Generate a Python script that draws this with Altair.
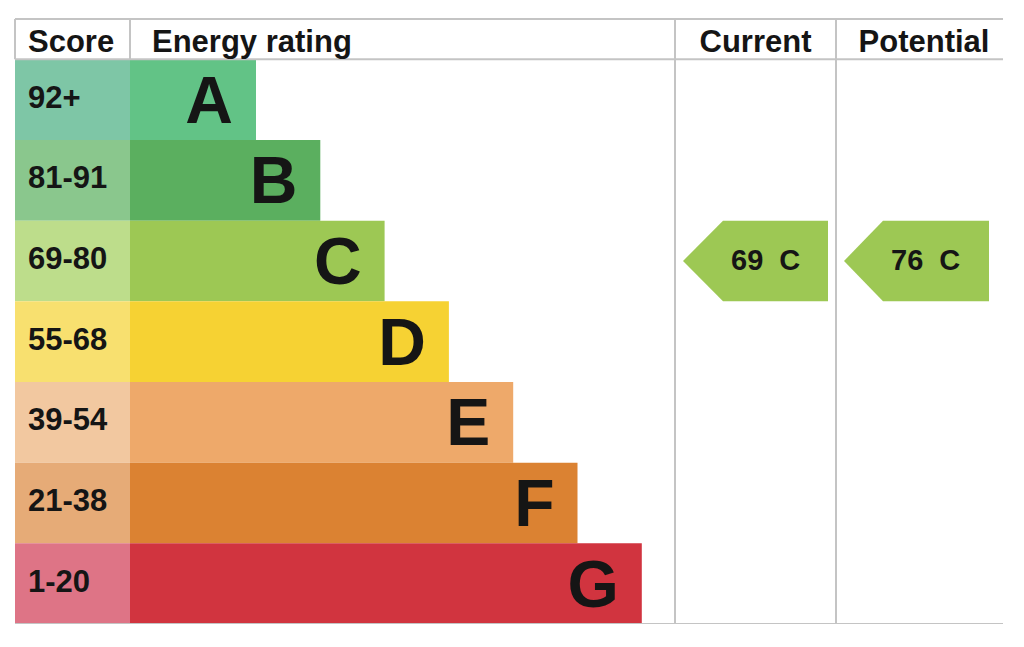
import pandas as pd
import altair as alt

# EPC data
bands = ["A", "B", "C", "D", "E", "F", "G"]
score_ranges = ["92+", "81-91", "69-80", "55-68", "39-54", "21-38", "1-20"]
band_floor = [92, 81, 69, 55, 39, 21, 1]
bar_colours = ["#62c386", "#5baf5f", "#9dc854", "#f6d233", "#eea96a", "#db8232", "#d1343f"]
score_colours = ["#7ec6a6", "#8ac78d", "#bddd8b", "#f8e06f", "#f2c8a0", "#e6ab77", "#de7486"]
current_score = 69
potential_score = 76

headers = ["Score", "Energy rating", "Current", "Potential"]

# layout (pixels from the table's left edge)
W = 988
SCORE_END = 115
BAR_FIRST_END = 241
BAR_STEP = 64.3
CUR_COL = (660, 821)
POT_COL = (821, 988)
FONT = "Liberation Sans"
GREY = "#c4c4c4"


def band_of(score):
    for b, lo in zip(bands, band_floor):
        if score >= lo:
            return b
    return bands[-1]


rows = pd.DataFrame({
    "band": bands,
    "score": score_ranges,
    "bar_col": bar_colours,
    "score_col": score_colours,
})
rows["row"] = range(len(bands))
rows["row2"] = rows["row"] + 1
rows["mid"] = rows["row"] + 0.5
rows["x0"] = 0
rows["x1"] = SCORE_END
rows["bar_end"] = [BAR_FIRST_END + i * BAR_STEP for i in range(len(bands))]
rows["letter_x"] = rows["bar_end"] - 23
rows["score_x"] = 13

xs = alt.Scale(domain=[0, W], nice=False, zero=False)
ys = alt.Scale(domain=[-0.5, 7], nice=False, zero=False, reverse=True)
X = lambda f: alt.X(f, type="quantitative", scale=xs, axis=None)
Y = lambda f: alt.Y(f, type="quantitative", scale=ys, axis=None)

base = alt.Chart(rows)

score_cells = base.mark_rect().encode(
    x=X("x0"), x2="x1", y=Y("row"), y2="row2",
    color=alt.Color("score_col:N", scale=None),
)
bars = base.mark_rect().encode(
    x=X("x1"), x2="bar_end", y=Y("row"), y2="row2",
    color=alt.Color("bar_col:N", scale=None),
)
letters = base.mark_text(
    font=FONT, fontWeight="bold", fontSize=66, align="right",
    baseline="middle", color="#151515", dy=3,
).encode(x=X("letter_x"), y=Y("mid"), text="band:N")
score_text = base.mark_text(
    font=FONT, fontWeight="bold", fontSize=31, align="left",
    baseline="middle", color="#151515", dy=-1,
).encode(x=X("score_x"), y=Y("mid"), text="score:N")

# header text
head = pd.DataFrame({
    "text": headers,
    "x": [13, 137, 740.5, 909],
    "align": ["left", "left", "center", "center"],
})
head["y"] = -0.085
head_left = alt.Chart(head[head["align"] == "left"]).mark_text(
    font=FONT, fontWeight="bold", fontSize=31, align="left",
    baseline="alphabetic", color="#151515",
).encode(x=X("x"), y=Y("y"), text="text:N")
head_mid = alt.Chart(head[head["align"] == "center"]).mark_text(
    font=FONT, fontWeight="bold", fontSize=31, align="center",
    baseline="alphabetic", color="#151515",
).encode(x=X("x"), y=Y("y"), text="text:N")

# grid lines
lines = pd.DataFrame({
    "x": [0, 0, 0, 0, 115, CUR_COL[0], POT_COL[0]],
    "x2": [W, W, W, 0, 115, CUR_COL[0], POT_COL[0]],
    "y": [-0.5, 0, 7, -0.5, -0.5, -0.5, -0.5],
    "y2": [-0.5, 0, 7, 0, 0, 7, 7],
})
rules = alt.Chart(lines).mark_rule(color=GREY, strokeWidth=2).encode(
    x=X("x"), x2="x2", y=Y("y"), y2="y2"
)


def arrow(score, tip, shoulder, right):
    b = band_of(score)
    r = bands.index(b)
    pts = pd.DataFrame({
        "x": [tip, shoulder, right],
        "y": [r + 0.5, r, r],
        "y2": [r + 0.5, r + 1, r + 1],
    })
    shape = alt.Chart(pts).mark_area(
        orient="vertical", color=bar_colours[r], opacity=1
    ).encode(x=X("x"), y=Y("y"), y2="y2")
    lab = pd.DataFrame({
        "x": [shoulder + 8], "y": [r + 0.5],
        "t": [f"{score}\u00a0\u00a0{b}"],
    })
    txt = alt.Chart(lab).mark_text(
        font=FONT, fontWeight="bold", fontSize=29, align="left",
        baseline="middle", color="#151515",
    ).encode(x=X("x"), y=Y("y"), text="t:N")
    return shape + txt


cur = arrow(current_score, CUR_COL[0] + 8, CUR_COL[0] + 48, CUR_COL[1] - 8)
pot = arrow(potential_score, POT_COL[0] + 8, POT_COL[0] + 47, POT_COL[0] + 153)

chart = alt.layer(
    score_cells, bars, rules, letters, score_text, head_left, head_mid, cur, pot
).properties(
    width=W, height=605,
    autosize=alt.AutoSizeParams(type="none"),
    padding={"left": 7, "top": 11, "right": 0, "bottom": 0},
).configure_view(stroke=None)

chart.save("out.html", embed_options={"renderer": "svg", "actions": False})
